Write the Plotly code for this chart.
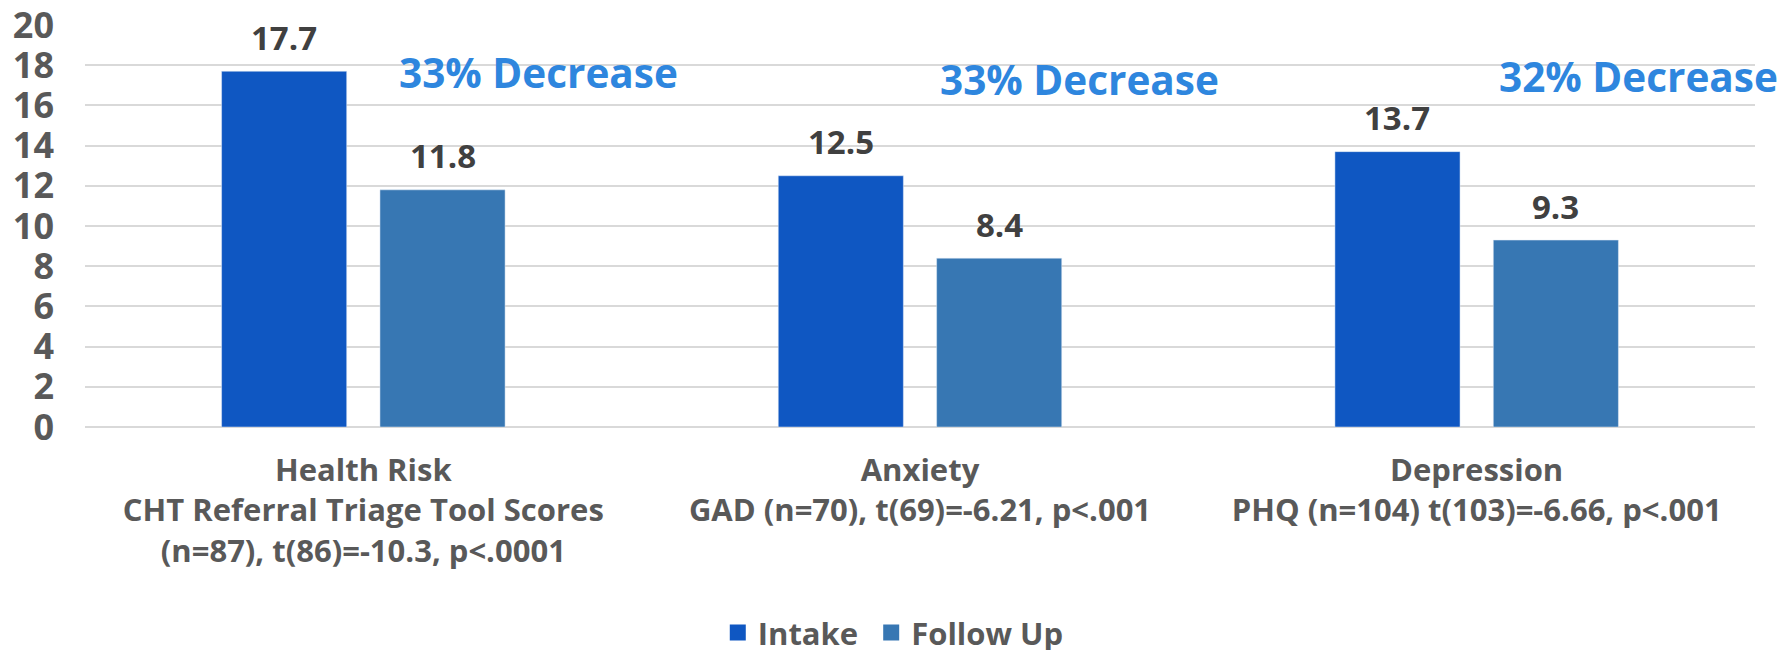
import plotly.graph_objects as go

categories = [
    "Health Risk<br>CHT Referral Triage Tool Scores<br>(n=87), t(86)=-10.3, p<.0001",
    "Anxiety<br>GAD (n=70), t(69)=-6.21, p<.001",
    "Depression<br>PHQ (n=104) t(103)=-6.66, p<.001",
]
intake = [17.7, 12.5, 13.7]
follow_up = [11.8, 8.4, 9.3]
series_names = ["Intake", "Follow Up"]
decrease_labels = ["33% Decrease", "33% Decrease", "32% Decrease"]
decrease_x = [0.315, 1.287, 2.291]
decrease_y = [17.62, 17.29, 17.45]
y_ticks = list(range(0, 21, 2))

FONT = "Open Sans"
GRAY = "#595959"
INTAKE_COLOR = "#0F57C2"
FOLLOW_COLOR = "#3777B3"
BARGAP = 0.431
BARGROUPGAP = 0.21

xs = list(range(len(categories)))

fig = go.Figure()
fig.add_trace(go.Bar(name=series_names[0], x=xs, y=intake, marker_color=INTAKE_COLOR,
                     legendgroup="intake", showlegend=False))
fig.add_trace(go.Bar(name=series_names[1], x=xs, y=follow_up, marker_color=FOLLOW_COLOR,
                     legendgroup="follow", showlegend=False))
# legend entries with larger square swatches (extra nbsp widens the first entry's gap)
for name, color, grp in ((series_names[0] + "\u00a0", INTAKE_COLOR, "intake"),
                         (series_names[1], FOLLOW_COLOR, "follow")):
    fig.add_trace(go.Scatter(
        name=name, x=[None], y=[None], mode="markers", legendgroup=grp,
        marker=dict(symbol="square", size=21, color=color), hoverinfo="skip",
    ))

slot = (1 - BARGAP) / 2
annotations = []
for i in xs:
    for val, off in ((intake[i], -slot / 2), (follow_up[i], slot / 2)):
        annotations.append(dict(
            x=i + off, y=val, xref="x", yref="y", text=f"{val:.1f}",
            showarrow=False, yanchor="middle", yshift=34,
            font=dict(family=FONT, size=33, color="#404040", weight="bold"),
        ))
for t, x, y in zip(decrease_labels, decrease_x, decrease_y):
    annotations.append(dict(
        x=x, y=y, xref="x", yref="y", text=t, showarrow=False,
        xanchor="center", yanchor="middle",
        font=dict(family=FONT, size=40.5, color="#2E86DE", weight="bold"),
    ))

fig.update_layout(
    width=1781, height=650,
    margin=dict(l=85, r=26, t=25, b=223, autoexpand=False),
    paper_bgcolor="white", plot_bgcolor="white",
    barmode="group", bargap=BARGAP, bargroupgap=BARGROUPGAP,
    font=dict(family=FONT, color=GRAY),
    annotations=annotations,
    showlegend=True,
    legend=dict(
        orientation="h", x=0.484, xanchor="center", y=-0.445, yanchor="top",
        font=dict(family=FONT, size=31, color=GRAY, weight="bold"),
        bgcolor="rgba(0,0,0,0)", itemsizing="trace",
    ),
)
fig.update_xaxes(
    range=[-0.5, 2.5], tickmode="array", tickvals=xs, ticktext=categories,
    showgrid=False, zeroline=False, showline=False, ticks="",
    tickfont=dict(family=FONT, size=31, color=GRAY, weight="bold"),
    ticklabelstandoff=22,
)
fig.update_yaxes(
    range=[0, 20], tickmode="array", tickvals=y_ticks,
    showgrid=True, gridcolor="#D9D9D9", gridwidth=1.5,
    zeroline=True, zerolinecolor="#D9D9D9", zerolinewidth=1.5,
    showline=False, ticks="", ticklabeloverflow="allow",
    tickfont=dict(family=FONT, size=36, color=GRAY, weight="bold"),
    ticklabelstandoff=30,
)

fig.write_html(
    "out.html",
    config={"displayModeBar": False},
    post_script="document.body.style.margin='0';document.body.style.overflow='hidden';",
)
